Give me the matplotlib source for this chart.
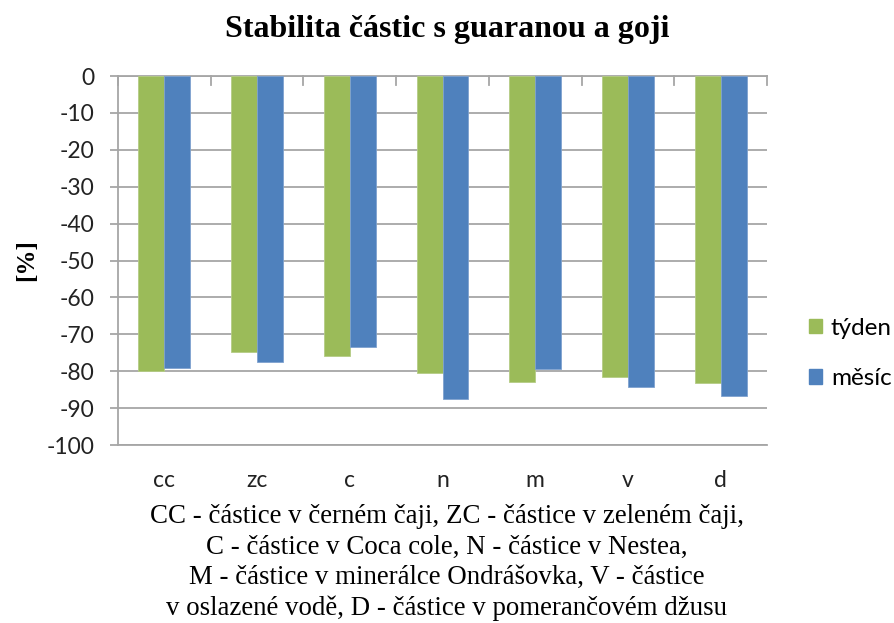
import matplotlib
matplotlib.use("Agg")
import matplotlib.pyplot as plt
import numpy as np
from matplotlib.patches import Patch

categories = ["cc", "zc", "c", "n", "m", "v", "d"]
tyden = [-80.0, -74.9, -76.0, -80.5, -82.9, -81.5, -83.2]
mesic = [-79.1, -77.4, -73.5, -87.4, -79.5, -84.3, -86.8]
series_names = ["týden", "měsíc"]
yticks = list(range(0, -101, -10))
title = "Stabilita částic s guaranou a goji"
caption = ("CC - částice v černém čaji, ZC - částice v zeleném čaji,\n"
           "C - částice v Coca cole, N - částice v Nestea,\n"
           "M - částice v minerálce Ondrášovka, V - částice\n"
           "v oslazené vodě, D - částice v pomerančovém džusu")

green = "#9BBB59"
blue = "#4F81BD"
grid_c = "#A6A6A6"
sans = ["Lato", "DejaVu Sans"]
serif = ["Liberation Serif", "DejaVu Serif"]

fig = plt.figure(figsize=(8.94, 6.23), dpi=100)
ax = fig.add_axes([0.132, 0.2857, 0.726, 0.5923])

x = np.arange(len(categories))
w = 0.28
ax.bar(x - w / 2, tyden, w, color=green, edgecolor="#B5CC85", linewidth=0.6, zorder=3)
ax.bar(x + w / 2, mesic, w, color=blue, edgecolor="#7FA2CF", linewidth=0.6, zorder=3)

ax.set_xlim(-0.5, len(categories) - 0.5)
ax.set_ylim(-100, 0)
ax.set_yticks(yticks)
ax.set_yticklabels([str(v) for v in yticks], fontfamily=sans, fontsize=16.5, color="#222222")
ax.yaxis.grid(True, color=grid_c, linewidth=1.3, zorder=0)
ax.tick_params(axis="y", length=6, width=1.3, color=grid_c, pad=11)

ax.set_xticks(x)
ax.set_xticklabels(categories, fontfamily=sans, fontsize=16.5, color="#222222")
ax.tick_params(axis="x", length=0, pad=18)

# category boundary tick marks on the zero line
trans = ax.get_xaxis_transform()
for b in np.arange(len(categories) + 1) - 0.5:
    ax.plot([b, b], [1, 0.976], transform=trans, color=grid_c, lw=1.3, clip_on=False, zorder=4)

ax.spines["right"].set_visible(False)
for s in ["left", "top", "bottom"]:
    ax.spines[s].set_color(grid_c)
    ax.spines[s].set_linewidth(1.3)

ax.set_ylabel("[%]", fontfamily=serif, fontsize=18, fontweight="bold", labelpad=6)

fig.text(0.5, 0.953, title, ha="center", va="center", fontfamily=serif,
         fontsize=23, fontweight="bold")

fig.text(0.5, 0.097, caption, ha="center", va="center", fontfamily=serif,
         fontsize=19.4, linespacing=1.29)

handles = [Patch(facecolor=green, edgecolor=green), Patch(facecolor=blue, edgecolor=blue)]
fig.legend(handles, series_names, loc="center left", bbox_to_anchor=(0.905, 0.433),
           frameon=False, prop={"family": sans, "size": 17.5}, handlelength=0.55,
           handleheight=0.55, handletextpad=0.35, labelspacing=1.2, borderpad=0,
           borderaxespad=0)

fig.savefig("out.png", dpi=100)
